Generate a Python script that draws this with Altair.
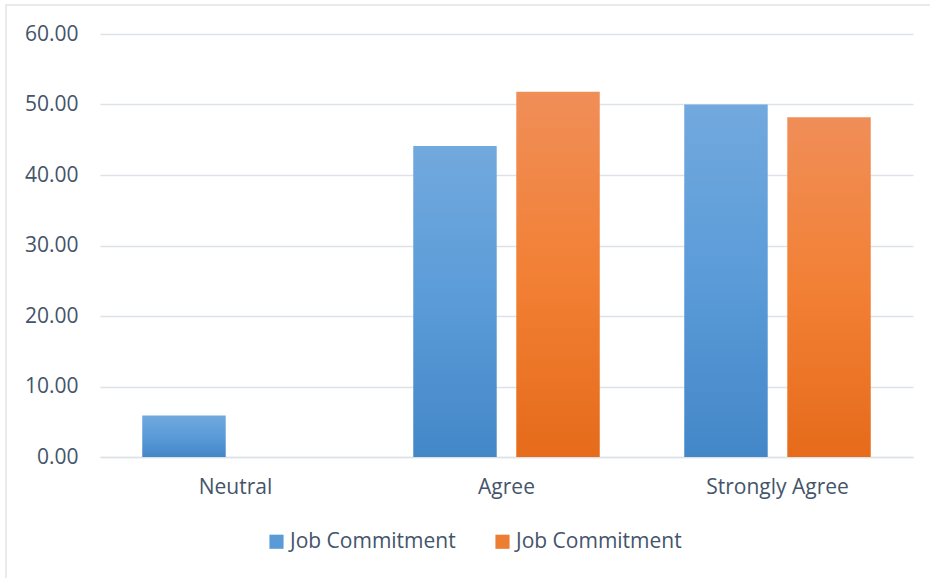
import altair as alt
import pandas as pd

categories = ["Neutral", "Agree", "Strongly Agree"]
series_keys = ["A", "B"]
series_label = "Job Commitment"
blue_values = [5.9, 44.1, 50.0]
orange_values = [0.0, 51.8, 48.2]
y_ticks = [0, 10, 20, 30, 40, 50, 60]

rows = []
for c, v in zip(categories, blue_values):
    rows.append({"category": c, "series": "A", "value": v})
for c, v in zip(categories, orange_values):
    rows.append({"category": c, "series": "B", "value": v})
df = pd.DataFrame(rows)

font = "Open Sans"
text_color = "#44546a"
grid_color = "#dde2e8"
fs = 21

blue_grad = alt.Gradient(
    gradient="linear", x1=0, x2=0, y1=0, y2=1,
    stops=[alt.GradientStop(color="#72a9de", offset=0),
           alt.GradientStop(color="#5a9bd8", offset=0.5),
           alt.GradientStop(color="#4487c8", offset=1)])
orange_grad = alt.Gradient(
    gradient="linear", x1=0, x2=0, y1=0, y2=1,
    stops=[alt.GradientStop(color="#f08e58", offset=0),
           alt.GradientStop(color="#f28035", offset=0.5),
           alt.GradientStop(color="#e66b1b", offset=1)])

x_enc = alt.X("category:N", sort=categories, title=None,
              scale=alt.Scale(paddingInner=0, paddingOuter=0),
              axis=alt.Axis(labelAngle=0, ticks=False, domainColor=grid_color,
                            domainWidth=1.5, labelPadding=19, labelFontSize=fs,
                            labelFont=font, labelColor=text_color))
y_enc = alt.Y("value:Q", title=None,
              scale=alt.Scale(domain=[0, 60], nice=False),
              axis=alt.Axis(values=y_ticks, format=".2f", domain=False, ticks=False,
                            gridColor=grid_color, gridWidth=1.5, labelPadding=22,
                            labelFontSize=fs, labelFont=font, labelColor=text_color))
xo_enc = alt.XOffset("series:N", sort=series_keys,
                     scale=alt.Scale(domain=series_keys, paddingInner=0.19, paddingOuter=0.41))

base = alt.Chart(df)

blue_bars = base.transform_filter(alt.datum.series == "A").mark_bar(color=blue_grad).encode(
    x=x_enc, y=y_enc, xOffset=xo_enc)
orange_bars = base.transform_filter(alt.datum.series == "B").mark_bar(color=orange_grad).encode(
    x=x_enc, y=y_enc, xOffset=xo_enc)

legend_layer = base.mark_bar(opacity=0).encode(
    x=x_enc, y=y_enc, xOffset=xo_enc,
    color=alt.Color("series:N", sort=series_keys,
                    scale=alt.Scale(domain=series_keys, range=["#5b9bd5", "#ed7d31"]),
                    legend=alt.Legend(title=None, orient="none", direction="horizontal",
                                      legendX=166, legendY=497,
                                      labelExpr="'" + series_label + "'",
                                      symbolType="square", symbolSize=200,
                                      symbolOpacity=1, symbolStrokeWidth=0,
                                      labelFont=font, labelFontSize=fs, labelLimit=400,
                                      labelColor=text_color, columnPadding=36,
                                      labelOffset=3)))

frame = alt.Chart(pd.DataFrame({"k": [0]})).mark_rect(
    fill=None, stroke="#e3e3e3", strokeWidth=1.5).encode(
    x=alt.value(-94), x2=alt.value(840), y=alt.value(-29), y2=alt.value(560))

chart = alt.layer(frame, blue_bars, orange_bars, legend_layer).properties(
    width=813, height=423,
    autosize=alt.AutoSizeParams(type="none"),
    padding={"left": 100, "top": 34, "right": 17, "bottom": 121},
    background="white",
).configure_view(strokeWidth=0, stroke=None)

chart.save("out.html", embed_options={"renderer": "svg", "actions": False})
